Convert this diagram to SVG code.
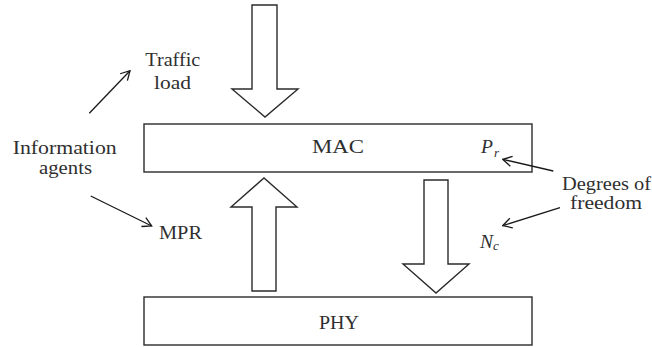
<svg xmlns="http://www.w3.org/2000/svg" width="652" height="347" viewBox="0 0 652 347">
  <style>
    .box { fill: #fff; stroke: #2b2b2b; stroke-width: 1.4; }
    .big { fill: #fff; stroke: #2b2b2b; stroke-width: 1.4; stroke-linejoin: miter; }
    .lbl { font-family: "Liberation Serif", "Times New Roman", serif; font-size: 19.5px; fill: #2f2f2f; }
    .it { font-style: italic; }
    .sub { font-size: 13px; }
    .thin { stroke: #1a1a1a; stroke-width: 1.3; fill: none; marker-end: url(#open); }
  </style>
  <defs>
    <marker id="open" viewBox="0 0 12 12" refX="11" refY="6" markerWidth="12" markerHeight="12" markerUnits="userSpaceOnUse" orient="auto">
      <path d="M2,1 L11,6 L2,11" fill="none" stroke="#1a1a1a" stroke-width="1.3"/>
    </marker>
  </defs>

  <!-- layer boxes -->
  <g id="mac">
    <rect class="box" x="144" y="124" width="388" height="48"/>
    <text class="lbl" x="338" y="153" text-anchor="middle" textLength="52" lengthAdjust="spacingAndGlyphs">MAC</text>
    <text class="lbl it" x="481" y="153">P<tspan class="sub" dx="1" dy="4">r</tspan></text>
  </g>
  <g id="phy">
    <rect class="box" x="144" y="297" width="388" height="48"/>
    <text class="lbl" x="339" y="329" text-anchor="middle" textLength="40" lengthAdjust="spacingAndGlyphs">PHY</text>
  </g>

  <!-- block arrows between layers -->
  <g id="arrow-in">
    <path class="big" d="M252,5 H277 V89 H298 L265,117 L232,89 H252 Z"/>
  </g>
  <g id="arrow-up">
    <path class="big" d="M252,291 H276 V207 H297 L264,178 L231,207 H252 Z"/>
  </g>
  <g id="arrow-down">
    <path class="big" d="M424,180 H448 V264 H469 L436,293 L403,264 H424 Z"/>
  </g>

  <!-- side labels -->
  <g id="info-agents">
    <text class="lbl" x="12.7" y="154" textLength="104" lengthAdjust="spacingAndGlyphs">Information</text>
    <text class="lbl" x="39" y="174" textLength="53" lengthAdjust="spacingAndGlyphs">agents</text>
  </g>
  <g id="traffic-load">
    <text class="lbl" x="145.3" y="66" textLength="55" lengthAdjust="spacingAndGlyphs">Traffic</text>
    <text class="lbl" x="154" y="89" textLength="37" lengthAdjust="spacingAndGlyphs">load</text>
  </g>
  <g id="mpr">
    <text class="lbl" x="159" y="239" textLength="43" lengthAdjust="spacingAndGlyphs">MPR</text>
  </g>
  <g id="degrees">
    <text class="lbl" x="562" y="190" textLength="89" lengthAdjust="spacingAndGlyphs">Degrees of</text>
    <text class="lbl" x="570" y="209" textLength="72" lengthAdjust="spacingAndGlyphs">freedom</text>
  </g>
  <g id="nc">
    <text class="lbl it" x="480" y="248">N<tspan class="sub" dx="0" dy="2">c</tspan></text>
  </g>

  <!-- pointer connectors -->
  <g id="connectors">
    <line class="thin" x1="89.3" y1="113.3" x2="130" y2="70.7"/>
    <line class="thin" x1="90.7" y1="196" x2="151.7" y2="226"/>
    <line class="thin" x1="553.3" y1="171" x2="502.7" y2="159.3"/>
    <line class="thin" x1="560" y1="207.7" x2="502.7" y2="225.7"/>
  </g>
</svg>
